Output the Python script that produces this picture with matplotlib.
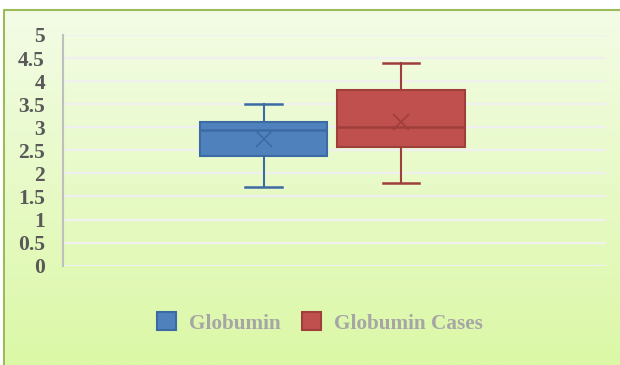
import numpy as np
import matplotlib.pyplot as plt
from matplotlib.patches import Patch, Rectangle

# summary values for each box
series = ['Globumin', 'Globumin Cases']
q1 = [2.38, 2.57]
median = [2.95, 3.01]
q3 = [3.12, 3.81]
whisker_low = [1.70, 1.80]
whisker_high = [3.50, 4.40]
means = [2.75, 3.12]

fills = ['#4f81bd', '#c0504d']
edges = ['#3c6aa3', '#9e3f3c']

yticks = [0, 0.5, 1, 1.5, 2, 2.5, 3, 3.5, 4, 4.5, 5]
ytick_labels = ['0', '0.5', '1', '1.5', '2', '2.5', '3', '3.5', '4', '4.5', '5']

plt.rcParams['font.family'] = 'Liberation Serif'

fig = plt.figure(figsize=(6.2, 3.65), dpi=100)

# gradient background
bg = fig.add_axes([0, 0, 1, 1], zorder=-10)
top = np.array([244, 252, 232]) / 255
bottom = np.array([219, 248, 166]) / 255
t = np.linspace(0, 1, 256)[:, None]
grad = top * (1 - t[..., None]) + bottom * t[..., None]
grad = np.repeat(grad, 2, axis=1)
bg.imshow(grad, aspect='auto', extent=[0, 1, 0, 1], origin='upper')
bg.set_xlim(0, 1)
bg.set_ylim(0, 1)
bg.axis('off')
# white margin at top/left and the chart border
bg.add_patch(Rectangle((0, 1 - 10 / 365), 1, 1, color='white', zorder=2))
bg.add_patch(Rectangle((0, 0), 4 / 620, 1, color='white', zorder=2))
bg.plot([4 / 620, 4 / 620, 1], [0, 1 - 10 / 365, 1 - 10 / 365],
        color='#9bbb59', lw=1.5, zorder=3, solid_capstyle='butt')

ax = fig.add_axes([63 / 620, 1 - 265.7 / 365, 543 / 620, (265.7 - 35) / 365])
ax.patch.set_alpha(0)

stats = []
for i, name in enumerate(series):
    stats.append(dict(label=name, q1=q1[i], med=median[i], q3=q3[i],
                      whislo=whisker_low[i], whishi=whisker_high[i],
                      mean=means[i], fliers=[]))

positions = [-0.26, 0.245]
for i, s in enumerate(stats):
    ax.bxp([s], positions=[positions[i]], widths=0.468, capwidths=0.136,
           patch_artist=True, showmeans=True, manage_ticks=False,
           boxprops=dict(facecolor=fills[i], edgecolor=edges[i], linewidth=1.5),
           medianprops=dict(color=edges[i], linewidth=1.8),
           whiskerprops=dict(color=edges[i], linewidth=1.5),
           capprops=dict(color=edges[i], linewidth=1.8),
           meanprops=dict(marker='x', markeredgecolor=edges[i], markersize=12,
                          markeredgewidth=1.2))

ax.set_xlim(-1, 1)
ax.set_ylim(0, 5)
ax.set_yticks(yticks)
ax.set_yticklabels(ytick_labels)
ax.set_xticks([])
ax.grid(axis='y', color='#f0f0f0', linewidth=1.6)
ax.set_axisbelow(True)
for side in ['top', 'right', 'bottom']:
    ax.spines[side].set_visible(False)
ax.spines['left'].set_color('#bfbfbf')
ax.spines['left'].set_linewidth(1.5)
ax.tick_params(axis='y', length=0, pad=13, labelsize=15.5, labelcolor='#595959')
for lab in ax.get_yticklabels():
    lab.set_fontweight('bold')

handles = [Patch(facecolor=fills[i], edgecolor=edges[i], linewidth=1.5, label=series[i])
           for i in range(2)]
fig.legend(handles=handles, loc='center', bbox_to_anchor=(0.516, 1 - 323 / 365),
           ncol=2, frameon=False, handlelength=0.9, handleheight=0.9,
           handletextpad=0.6, columnspacing=1.0,
           prop=dict(family='Liberation Serif', weight='bold', size=15.3),
           labelcolor='#a6a6a6')

fig.savefig('out.png', dpi=100)
